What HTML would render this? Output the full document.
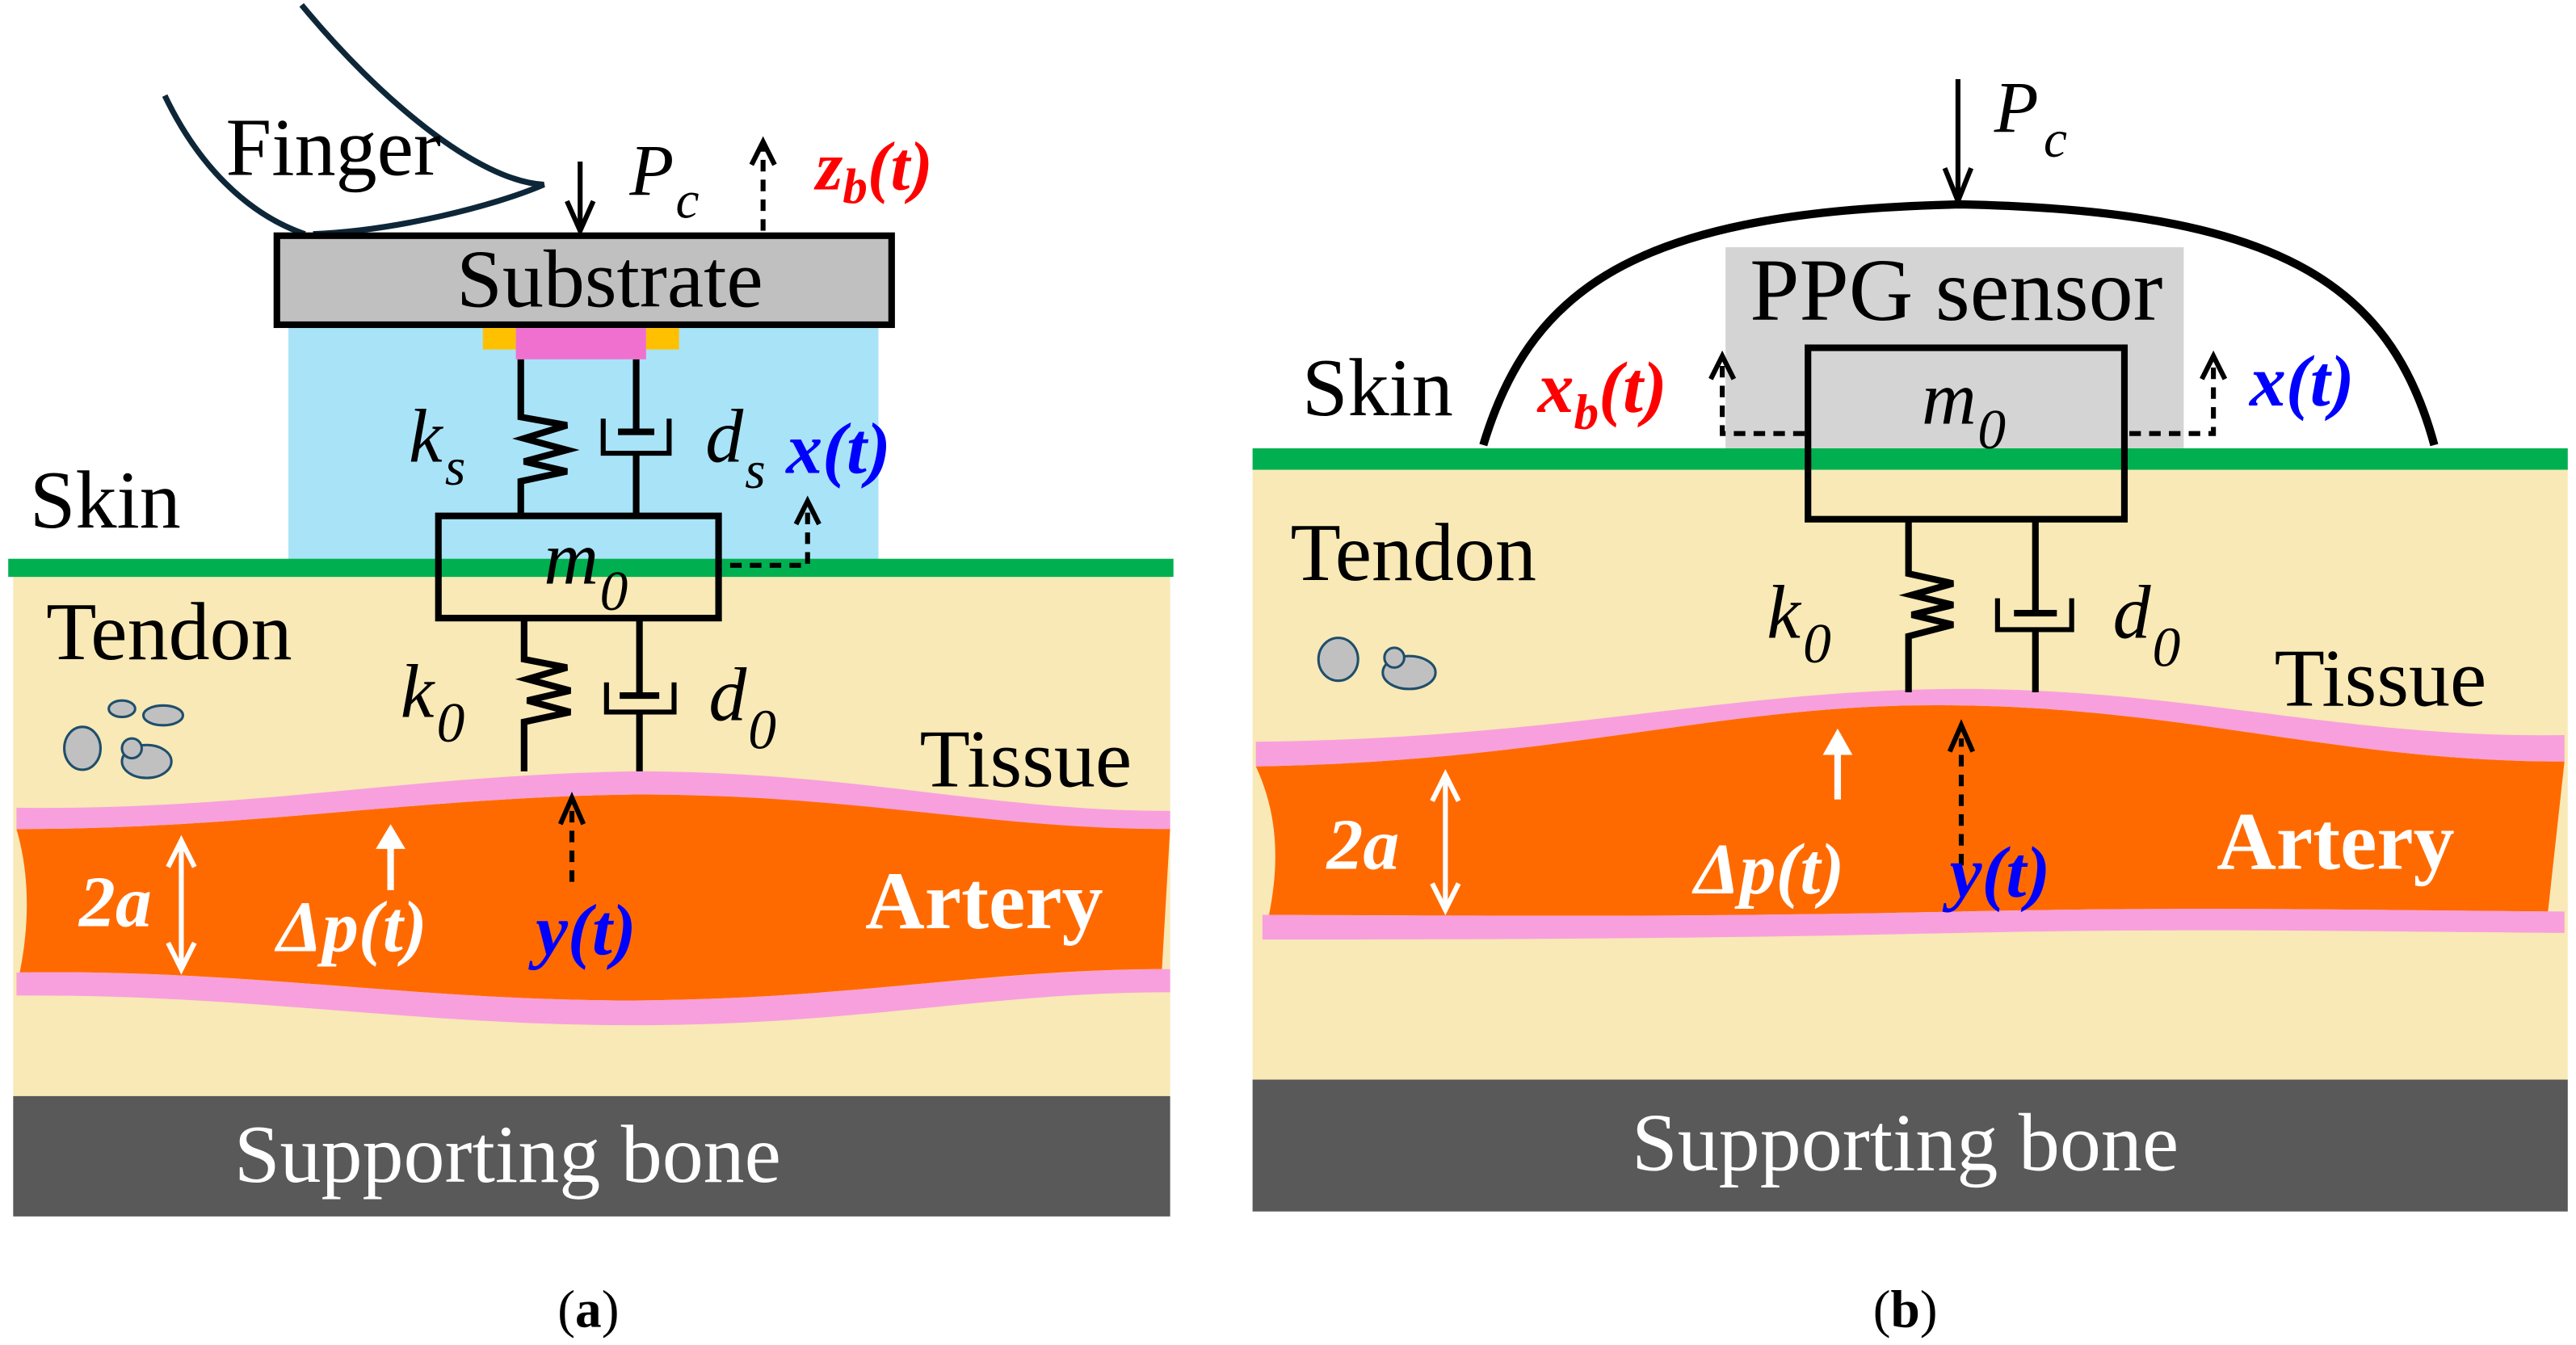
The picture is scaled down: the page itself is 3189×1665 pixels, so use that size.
<!DOCTYPE html>
<html><head><meta charset="utf-8"><style>
html,body{margin:0;padding:0;background:#fff}
svg{display:block}
svg text{font-family:"Liberation Serif","Times New Roman",serif}
</style></head><body>
<svg width="3189" height="1665" viewBox="0 0 1563 816" preserveAspectRatio="none" xmlns="http://www.w3.org/2000/svg" font-family="Liberation Serif, serif">
<!-- ===== Panel A ===== -->
<rect x="8" y="345" width="702" height="320" fill="#f8e9b6"/>
<rect x="175" y="198" width="358" height="144" fill="#a9e3f7"/>
<rect x="5" y="339" width="707" height="11" fill="#00b050"/>
<path d="M10,503 C150,503 250,484 385,482 C520,482 600,502 710,502 L705,588 C600,588 520,606 385,607 C250,607 150,588 12,590 C18,560 18,530 10,503Z" fill="#ff6a00"/>
<path d="M10,490 C150,492 250,470 385,468 C520,468 600,492 710,492 L710,503 C600,503 520,482 385,482 C250,484 150,503 10,503Z" fill="#f8a0dd"/>
<path d="M10,590 C150,588 250,607 385,607 C520,606 600,588 710,588 L710,602 C600,602 520,622 385,622 C250,622 150,603 10,604Z" fill="#f8a0dd"/>
<rect x="8" y="665" width="702" height="73" fill="#595959"/>
<text x="308" y="717" font-size="50" fill="#fff" text-anchor="middle">Supporting bone</text>
<path d="M183,3 C230,60 290,110 330,112 C300,125 240,140 190,142 M100,58 C120,100 150,130 185,142" fill="none" stroke="#0d2738" stroke-width="3.5"/>
<text x="137" y="106" font-size="50">Finger</text>
<rect x="168" y="143" width="373" height="54" fill="#c0c0c0" stroke="#000" stroke-width="4"/>
<text x="370" y="186" font-size="50" text-anchor="middle">Substrate</text>
<rect x="293" y="199" width="20" height="13" fill="#ffc000"/>
<rect x="392" y="199" width="20" height="13" fill="#ffc000"/>
<rect x="313" y="199" width="79" height="19" fill="#f070d0"/>
<line x1="352" y1="98" x2="352" y2="140" stroke="#000" stroke-width="3"/>
<path d="M344,122 L352,140 L360,122" fill="none" stroke="#000" stroke-width="3"/>
<text x="382" y="118" font-size="44" font-style="italic">P</text><text x="410" y="132" font-size="32" font-style="italic">c</text>
<line x1="463" y1="140" x2="463" y2="88" stroke="#000" stroke-width="3" stroke-dasharray="7,5"/>
<path d="M456,100 L463,86 L470,100" fill="none" stroke="#000" stroke-width="3"/>
<text x="495" y="115" font-size="42" font-weight="bold" font-style="italic" fill="#f00">z<tspan font-size="30" dy="8">b</tspan><tspan dy="-8">(t)</tspan></text>
<polyline points="316,218 316,253 344,258 318,266 344,273 318,280 344,286 316,292 316,312" fill="none" stroke="#000" stroke-width="4"/>
<line x1="386" y1="218" x2="386" y2="262" stroke="#000" stroke-width="4"/>
<line x1="375" y1="262" x2="397" y2="262" stroke="#000" stroke-width="4"/>
<path d="M366,254 L366,275 L406,275 L406,254" fill="none" stroke="#000" stroke-width="3"/>
<line x1="386" y1="275" x2="386" y2="312" stroke="#000" stroke-width="4"/>
<text x="248" y="280" font-size="46" font-style="italic">k</text><text x="270" y="294" font-size="32" font-style="italic">s</text>
<text x="428" y="280" font-size="46" font-style="italic">d</text><text x="452" y="296" font-size="32" font-style="italic">s</text>
<text x="477" y="287" font-size="44" font-weight="bold" font-style="italic" fill="#0000ff">x(t)</text>
<rect x="266" y="313" width="170" height="62" fill="none" stroke="#000" stroke-width="4"/>
<text x="330" y="354" font-size="46" font-style="italic">m</text><text x="364" y="370" font-size="34" font-style="italic">0</text>
<polyline points="443,343 490,343 490,310" fill="none" stroke="#000" stroke-width="3" stroke-dasharray="7,5"/>
<path d="M483,318 L490,304 L497,318" fill="none" stroke="#000" stroke-width="3"/>
<polyline points="318,375 318,400 344,405 320,412 346,419 320,425 346,432 318,438 318,468" fill="none" stroke="#000" stroke-width="4"/>
<line x1="388" y1="375" x2="388" y2="422" stroke="#000" stroke-width="4"/>
<line x1="376" y1="422" x2="400" y2="422" stroke="#000" stroke-width="4"/>
<path d="M368,414 L368,432 L409,432 L409,414" fill="none" stroke="#000" stroke-width="3"/>
<line x1="388" y1="432" x2="388" y2="468" stroke="#000" stroke-width="4"/>
<text x="243" y="435" font-size="46" font-style="italic">k</text><text x="265" y="450" font-size="34" font-style="italic">0</text>
<text x="430" y="437" font-size="46" font-style="italic">d</text><text x="454" y="454" font-size="34" font-style="italic">0</text>
<text x="18" y="320" font-size="50">Skin</text>
<text x="28" y="400" font-size="50">Tendon</text>
<text x="558" y="477" font-size="50">Tissue</text>
<g fill="#c0c0c0" stroke="#1f4e6b" stroke-width="1.5">
<ellipse cx="74" cy="430" rx="8" ry="5"/><ellipse cx="99" cy="434" rx="12" ry="6"/>
<ellipse cx="50" cy="454" rx="11" ry="13"/><ellipse cx="89" cy="462" rx="15" ry="10"/><ellipse cx="80" cy="454" rx="6" ry="6"/>
</g>
<text x="48" y="562" font-size="44" font-weight="bold" font-style="italic" fill="#fff">2a</text>
<line x1="110" y1="512" x2="110" y2="585" stroke="#fff" stroke-width="3"/>
<path d="M102,526 L110,510 L118,526 M102,572 L110,588 L118,572" fill="none" stroke="#fff" stroke-width="3"/>
<line x1="237" y1="540" x2="237" y2="512" stroke="#fff" stroke-width="4"/>
<path d="M228,515 L237,500 L246,515Z" fill="#fff"/>
<text x="168" y="577" font-size="44" font-weight="bold" font-style="italic" fill="#fff">Δp(t)</text>
<line x1="347" y1="535" x2="347" y2="490" stroke="#000" stroke-width="3" stroke-dasharray="7,5"/>
<path d="M340,500 L347,484 L354,500" fill="none" stroke="#000" stroke-width="3"/>
<text x="325" y="579" font-size="44" font-weight="bold" font-style="italic" fill="#0000ff">y(t)</text>
<text x="525" y="563" font-size="50" font-weight="bold" fill="#fff">Artery</text>
<text x="357" y="805" font-size="32" text-anchor="middle">(<tspan font-weight="bold">a</tspan>)</text>

<!-- ===== Panel B ===== -->
<rect x="760" y="284" width="798" height="371" fill="#f8e9b6"/>
<rect x="1047" y="150" width="278" height="122" fill="#d4d4d4"/>
<rect x="760" y="272" width="798" height="13" fill="#00b050"/>
<path d="M762,465 C950,462 1050,425 1190,428 C1330,430 1420,462 1556,462 L1546,553 C1420,552 1330,550 1190,553 C1050,556 950,556 770,555 C776,525 776,495 762,465Z" fill="#ff6a00"/>
<path d="M762,450 C950,448 1050,418 1190,418 C1330,418 1420,448 1556,446 L1556,462 C1420,462 1330,430 1190,428 C1050,425 950,462 762,465Z" fill="#f8a0dd"/>
<path d="M766,555 C950,556 1050,556 1190,553 C1330,550 1420,552 1556,553 L1556,566 C1420,565 1330,563 1190,566 C1050,569 950,570 766,570Z" fill="#f8a0dd"/>
<rect x="760" y="655" width="798" height="80" fill="#595959"/>
<text x="1156" y="710" font-size="50" fill="#fff" text-anchor="middle">Supporting bone</text>
<path d="M900,270 C930,170 1000,128 1190,124 C1380,128 1450,170 1477,270" fill="none" stroke="#000" stroke-width="5"/>
<line x1="1188" y1="48" x2="1188" y2="120" stroke="#000" stroke-width="3"/>
<path d="M1180,102 L1188,122 L1196,102" fill="none" stroke="#000" stroke-width="3"/>
<text x="1210" y="80" font-size="44" font-style="italic">P</text><text x="1240" y="95" font-size="32" font-style="italic">c</text>
<text x="1187" y="194" font-size="54" text-anchor="middle">PPG sensor</text>
<rect x="1097" y="211" width="192" height="104" fill="none" stroke="#000" stroke-width="4"/>
<text x="1166" y="257" font-size="46" font-style="italic">m</text><text x="1200" y="272" font-size="34" font-style="italic">0</text>
<polyline points="1095,263 1045,263 1045,222" fill="none" stroke="#000" stroke-width="3" stroke-dasharray="7,5"/>
<path d="M1038,230 L1045,216 L1052,230" fill="none" stroke="#000" stroke-width="3"/>
<polyline points="1292,263 1343,263 1343,222" fill="none" stroke="#000" stroke-width="3" stroke-dasharray="7,5"/>
<path d="M1336,230 L1343,216 L1350,230" fill="none" stroke="#000" stroke-width="3"/>
<text x="790" y="252" font-size="50">Skin</text>
<text x="933" y="250" font-size="44" font-weight="bold" font-style="italic" fill="#f00">x<tspan font-size="30" dy="10">b</tspan><tspan dy="-10">(t)</tspan></text>
<text x="1365" y="246" font-size="44" font-weight="bold" font-style="italic" fill="#0000ff">x(t)</text>
<polyline points="1158,315 1158,348 1185,354 1160,361 1185,367 1160,373 1185,379 1158,386 1158,420" fill="none" stroke="#000" stroke-width="4"/>
<line x1="1235" y1="315" x2="1235" y2="372" stroke="#000" stroke-width="4"/>
<line x1="1222" y1="372" x2="1248" y2="372" stroke="#000" stroke-width="4"/>
<path d="M1212,363 L1212,382 L1257,382 L1257,363" fill="none" stroke="#000" stroke-width="3"/>
<line x1="1235" y1="382" x2="1235" y2="420" stroke="#000" stroke-width="4"/>
<text x="1072" y="387" font-size="46" font-style="italic">k</text><text x="1094" y="402" font-size="34" font-style="italic">0</text>
<text x="1282" y="387" font-size="46" font-style="italic">d</text><text x="1306" y="404" font-size="34" font-style="italic">0</text>
<text x="783" y="352" font-size="50">Tendon</text>
<text x="1380" y="428" font-size="50">Tissue</text>
<g fill="#c0c0c0" stroke="#1f4e6b" stroke-width="1.5">
<ellipse cx="812" cy="400" rx="12" ry="13"/><ellipse cx="855" cy="408" rx="16" ry="10"/><ellipse cx="846" cy="399" rx="6" ry="6"/>
</g>
<text x="805" y="527" font-size="44" font-weight="bold" font-style="italic" fill="#fff">2a</text>
<line x1="877" y1="470" x2="877" y2="550" stroke="#fff" stroke-width="3"/>
<path d="M869,486 L877,470 L885,486 M869,536 L877,552 L885,536" fill="none" stroke="#fff" stroke-width="3"/>
<line x1="1115" y1="485" x2="1115" y2="455" stroke="#fff" stroke-width="4"/>
<path d="M1106,458 L1115,442 L1124,458Z" fill="#fff"/>
<text x="1028" y="542" font-size="44" font-weight="bold" font-style="italic" fill="#fff">Δp(t)</text>
<line x1="1190" y1="525" x2="1190" y2="448" stroke="#000" stroke-width="3" stroke-dasharray="7,5"/>
<path d="M1183,456 L1190,440 L1197,456" fill="none" stroke="#000" stroke-width="3"/>
<text x="1183" y="544" font-size="44" font-weight="bold" font-style="italic" fill="#0000ff">y(t)</text>
<text x="1345" y="527" font-size="50" font-weight="bold" fill="#fff">Artery</text>
<text x="1156" y="805" font-size="32" text-anchor="middle">(<tspan font-weight="bold">b</tspan>)</text>
</svg>
</body></html>
